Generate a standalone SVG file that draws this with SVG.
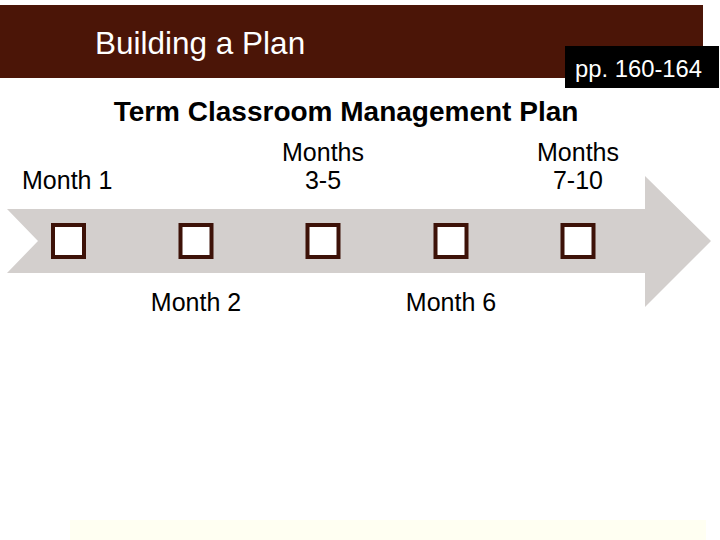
<svg xmlns="http://www.w3.org/2000/svg" width="720" height="540" viewBox="0 0 720 540">
<style>
.t{font-family:"Liberation Sans",Arial,sans-serif;fill:#000;font-size:25px}
.box{fill:#fff;stroke:#3d1208;stroke-width:4}
</style>
<rect width="720" height="540" fill="#fff"/>
<rect x="70" y="520" width="636" height="20" fill="#fffff2"/>
<g id="header">
<rect x="0" y="5" width="703" height="73" fill="#4b1507"/>
<text x="95" y="54" font-family="Liberation Sans,Arial,sans-serif" font-size="31.5" fill="#fff">Building a Plan</text>
</g>
<g id="pages">
<rect x="565" y="46" width="154" height="42" fill="#000"/>
<text x="575" y="77" font-family="Liberation Sans,Arial,sans-serif" font-size="23.8" fill="#fff">pp. 160-164</text>
</g>
<text x="346" y="121" text-anchor="middle" font-family="Liberation Sans,Arial,sans-serif" font-size="28" font-weight="bold">Term Classroom Management Plan</text>
<g id="connectors">
<path d="M7,209 L645,209 L645,176 L711,241 L645,307 L645,273 L7,273 L38,241 Z" fill="#d3cfcd"/>
</g>
<g id="m1"><rect class="box" x="53" y="225" width="31" height="32"/><text class="t" x="22" y="189">Month 1</text></g>
<g id="m2"><rect class="box" x="180.5" y="225" width="31" height="32"/><text class="t" x="196" y="311" text-anchor="middle">Month 2</text></g>
<g id="m35"><rect class="box" x="307.5" y="225" width="31" height="32"/><text class="t" x="323" y="161" text-anchor="middle">Months</text><text class="t" x="323" y="189" text-anchor="middle">3-5</text></g>
<g id="m6"><rect class="box" x="435.5" y="225" width="31" height="32"/><text class="t" x="451" y="311" text-anchor="middle">Month 6</text></g>
<g id="m710"><rect class="box" x="562.5" y="225" width="31" height="32"/><text class="t" x="578" y="161" text-anchor="middle">Months</text><text class="t" x="578" y="189" text-anchor="middle">7-10</text></g>
</svg>
